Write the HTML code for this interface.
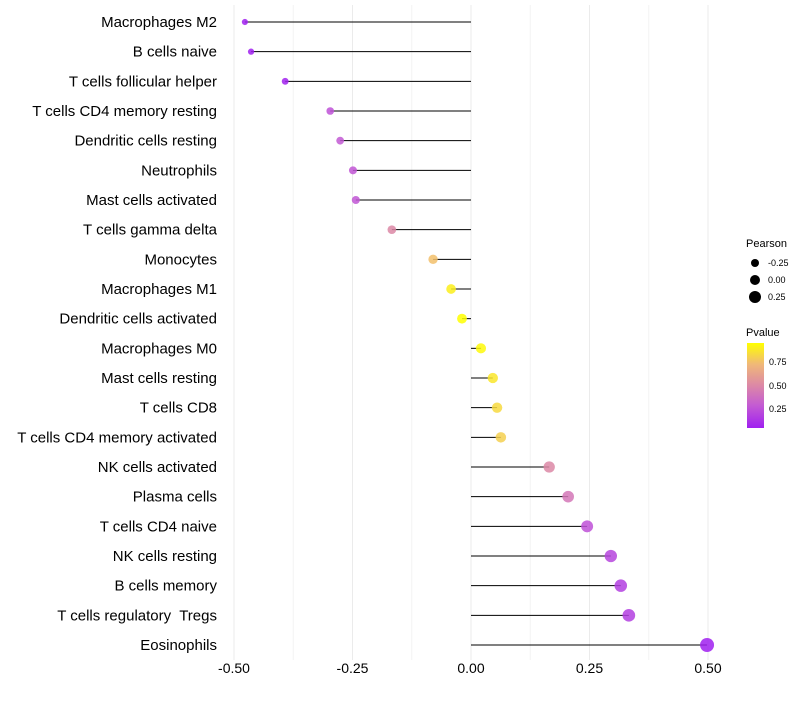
<!DOCTYPE html>
<html><head><meta charset="utf-8"><style>
body{margin:0;background:#fff;font-family:"Liberation Sans",sans-serif}
text{white-space:pre}
</style></head><body>
<svg id="chart" width="800" height="700" xmlns="http://www.w3.org/2000/svg">
<defs><linearGradient id="pg" x1="0" y1="1" x2="0" y2="0">
<stop offset="0" stop-color="#a020f0"/><stop offset="0.27" stop-color="#c45cd2"/><stop offset="0.5" stop-color="#dc88a6"/><stop offset="0.75" stop-color="#f0b878"/><stop offset="1" stop-color="#ffff00"/></linearGradient></defs>
<g id="grid"></g><g id="marks"></g><g id="labels"></g>
<g font-size="9">
<text x="746" y="247" font-size="11">Pearson</text>
<circle cx="755" cy="263" r="4"/><text x="768" y="266">-0.25</text>
<circle cx="755" cy="280" r="5"/><text x="768" y="283">0.00</text>
<circle cx="755" cy="297" r="6"/><text x="768" y="300">0.25</text>
</g>
<g font-size="9">
<text x="746" y="336" font-size="11">Pvalue</text>
<rect x="747" y="343" width="17" height="85" fill="url(#pg)"/>
<text x="769" y="365">0.75</text><text x="769" y="389">0.50</text><text x="769" y="412">0.25</text>
</g>
</svg>
<script>
const cells=["Macrophages M2","B cells naive","T cells follicular helper","T cells CD4 memory resting","Dendritic cells resting","Neutrophils","Mast cells activated","T cells gamma delta","Monocytes","Macrophages M1","Dendritic cells activated","Macrophages M0","Mast cells resting","T cells CD8","T cells CD4 memory activated","NK cells activated","Plasma cells","T cells CD4 naive","NK cells resting","B cells memory","T cells regulatory  Tregs","Eosinophils"];
const pearson=[-0.477,-0.464,-0.392,-0.297,-0.276,-0.249,-0.243,-0.167,-0.080,-0.042,-0.019,0.021,0.046,0.055,0.063,0.165,0.205,0.245,0.295,0.316,0.333,0.498];
const pvalue=[0.02,0.03,0.06,0.25,0.28,0.27,0.27,0.5,0.75,0.9,0.95,0.93,0.87,0.83,0.8,0.5,0.42,0.25,0.2,0.18,0.18,0.03];
const ticks=[-0.5,-0.25,0,0.25,0.5];
const tickLabels=["-0.50","-0.25","0.00","0.25","0.50"];
const NS="http://www.w3.org/2000/svg";
const xs=v=>471+v*474;
const ys=i=>22+i*(623/21);
const stops=[[0,[160,32,240]],[0.27,[196,92,210]],[0.5,[220,136,166]],[0.75,[240,184,120]],[1,[255,255,0]]];
function col(p){let t=(p-0.05)/0.9;t=Math.max(0,Math.min(1,t));for(let k=1;k<stops.length;k++){if(t<=stops[k][0]){const a=stops[k-1],b=stops[k];const f=(t-a[0])/(b[0]-a[0]);return "rgb("+a[1].map((c,j)=>Math.round(c+(b[1][j]-c)*f)).join(",")+")";}}return "rgb(255,255,0)";}
function mk(tag,at,parent){const e=document.createElementNS(NS,tag);for(const k in at)e.setAttribute(k,at[k]);document.getElementById(parent).appendChild(e);return e;}
const minors=[-0.375,-0.125,0.125,0.375];
minors.forEach(v=>{const l=mk("line",{x1:xs(v),x2:xs(v),y1:5,y2:660,stroke:"#f4f4f4","stroke-width":1},"grid");

});
ticks.forEach((v,i)=>{const l=mk("line",{x1:xs(v),x2:xs(v),y1:5,y2:660,stroke:"#ebebeb","stroke-width":1},"grid");


const t=mk("text",{x:xs(v),y:673,"text-anchor":"middle","font-size":14},"labels");t.textContent=tickLabels[i];

});
cells.forEach((c,i)=>{const y=ys(i);
const s=mk("line",{x1:xs(0),x2:xs(pearson[i]),y1:y,y2:y,stroke:"#000","stroke-width":1},"marks");


const d=mk("circle",{cx:xs(pearson[i]),cy:y,r:Math.max(1.5,5+4*pearson[i]),fill:col(pvalue[i]),"fill-opacity":0.85},"marks");


const t=mk("text",{x:217,y:y+5,"text-anchor":"end","font-size":15},"labels");t.textContent=c;

});
</script>
</body></html>
